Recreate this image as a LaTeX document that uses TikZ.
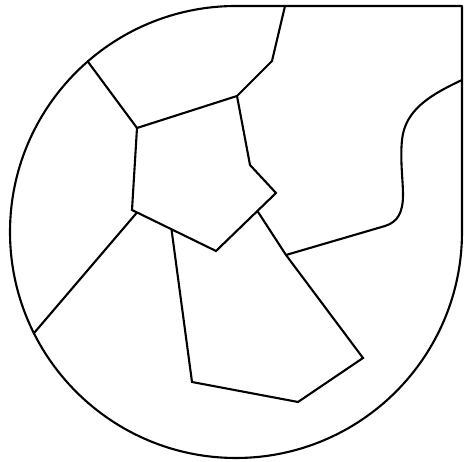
\documentclass[tikz,border=0pt]{standalone}
\usetikzlibrary{calc}

\begin{document}
\begin{tikzpicture}[
  x=1pt, y=1pt,
  edge/.style={draw, line width=2.1pt, line join=round},
  seam/.style={draw, line width=2.1pt, line join=miter}
]
\useasboundingbox (0,0) rectangle (464,462);

% Outer outline
\coordinate (ctr) at (236,230);
\draw[edge] (462,230) arc[start angle=0, end angle=-270, radius=226] -- (462,456) -- cycle;

% Patch corners
\coordinate (topA)  at (285,456);
\coordinate (topB)  at (272,401);
\coordinate (penC)  at (237,366);
\coordinate (penD)  at (250,297);
\coordinate (penE)  at (276,269);
\coordinate (penF)  at (216,211);
\coordinate (penG)  at (132,252);
\coordinate (penH)  at (137,334);
\coordinate (rimI)  at ($(ctr)+(131:226)$);
\coordinate (rimJ)  at ($(ctr)+(206.6:226)$);
\coordinate (brK)   at ($(penG)!0.06!(penF)$);
\coordinate (brL)   at ($(penG)!0.47!(penF)$);
\coordinate (brS)   at ($(penE)!0.31!(penF)$);
\coordinate (quaM)  at (192,80);
\coordinate (quaN)  at (298,60);
\coordinate (quaP)  at (363,104);
\coordinate (quaQ)  at (286,207);

% Pentagon and upper seam
\draw[seam] (topA) -- (topB) -- (penC) -- (penD) -- (penE) -- (penF) -- (penG) -- (penH) -- (penC);
\draw[seam] (penH) -- (rimI);
\draw[seam] (brK) -- (rimJ);

% Lower quadrilateral
\draw[seam] (brL) -- (quaM) -- (quaN) -- (quaP) -- (quaQ) -- (brS);

% Wavy seam on the right
\draw[edge] (quaQ) -- (385,236)
  .. controls (398,240) and (403,250) .. (403,267)
  .. controls (403,282) and (400,302) .. (402,322)
  .. controls (405,352) and (430,367) .. (462,382);
\end{tikzpicture}
\end{document}
